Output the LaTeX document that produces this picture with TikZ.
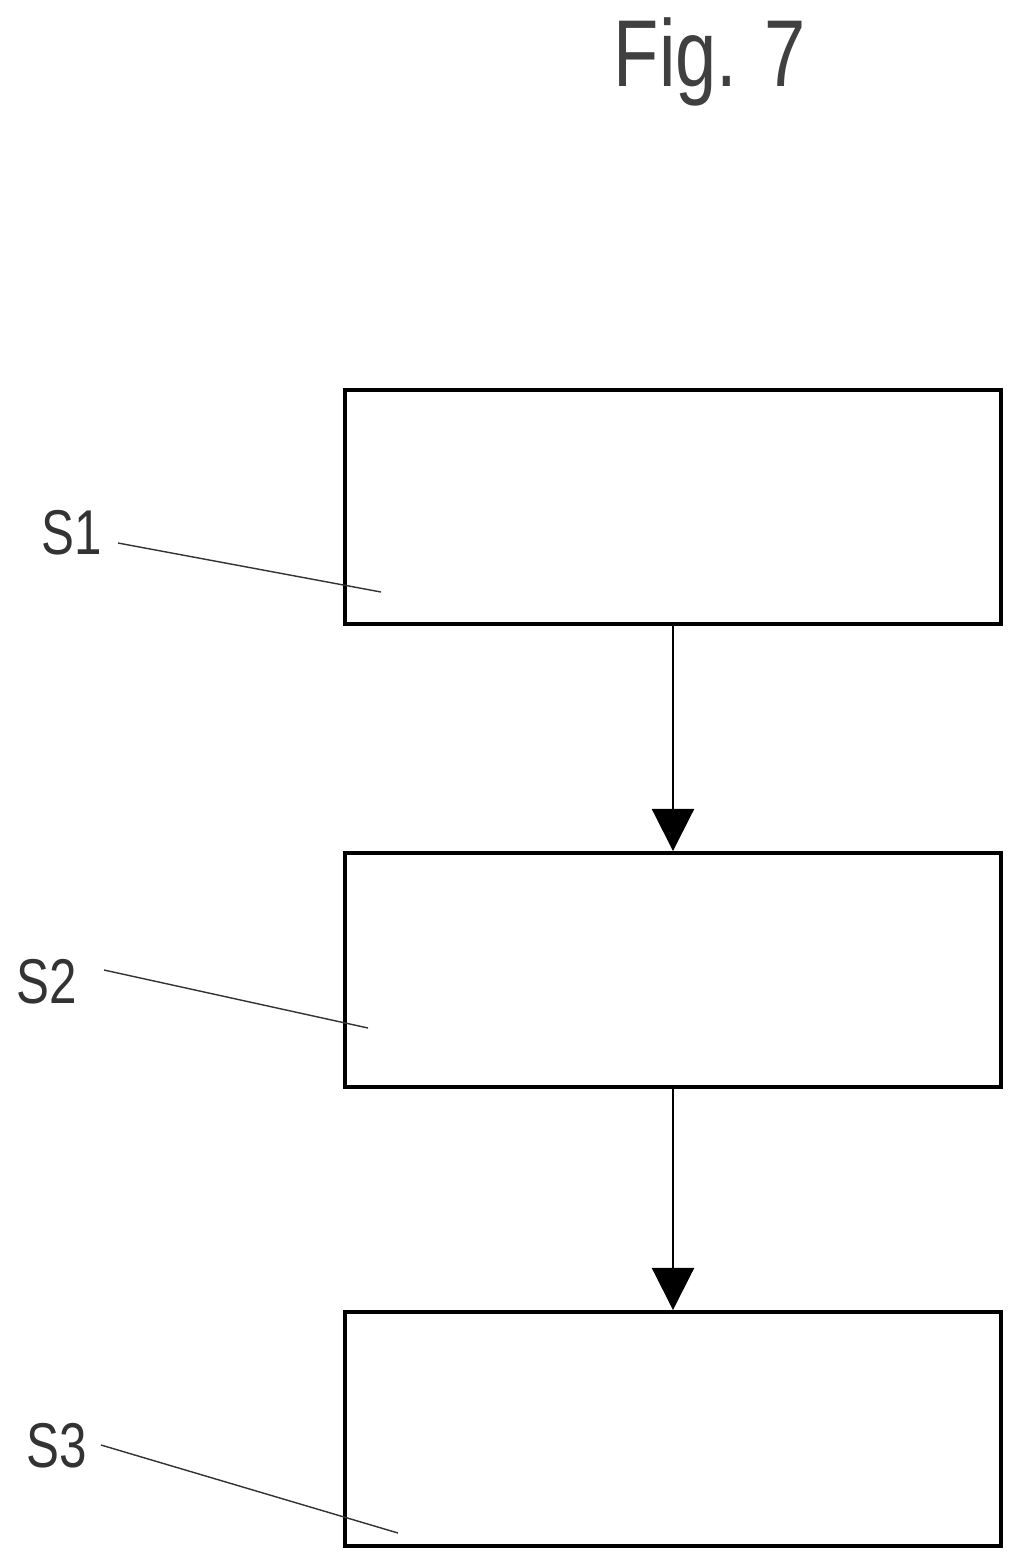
\documentclass[tikz,border=0pt]{standalone}
\usepackage{fontspec}
\setmainfont{Liberation Sans}
\usetikzlibrary{arrows.meta}
\tikzset{
  stepbox/.style={draw=black, line width=1.1pt, minimum width=6.56cm, minimum height=2.34cm, inner sep=0pt},
  flow/.style={-{Triangle[width=12pt,length=12pt]}, line width=0.6pt},
  lead/.style={line width=0.4pt, black!80},
  tag/.style={font=\fontsize{18}{20}\selectfont, text=black!80, inner sep=0pt, xscale=0.78}
}
\begin{document}
\begin{tikzpicture}[x=0.01cm,y=-0.01cm]
        \useasboundingbox (0,0) rectangle (1025,1568);
        % title
        \node[font=\fontsize{27}{30}\selectfont, text=black!75, xscale=0.78] (title) at (710,62) {Fig. 7};

        % steps
        \node[stepbox] (s1box) at (673,507) {};
        \node[stepbox] (s2box) at (673,970) {};
        \node[stepbox] (s3box) at (673,1429) {};

        % arrows
        \draw[flow] (s1box.south) -- (s2box.north);
        \draw[flow] (s2box.south) -- (s3box.north);

        % labels
        \node[tag] (s1) at (72,533) {S1};
        \node[tag] (s2) at (47,982) {S2};
        \node[tag] (s3) at (57,1446) {S3};
        \coordinate (s1end) at (381,592);
        \coordinate (s2end) at (368,1028);
        \coordinate (s3end) at (398,1533);
        \draw[lead] (118,543) -- (s1end);
        \draw[lead] (104,970) -- (s2end);
        \draw[lead] (101,1445) -- (s3end);
    \end{tikzpicture}
\end{document}
